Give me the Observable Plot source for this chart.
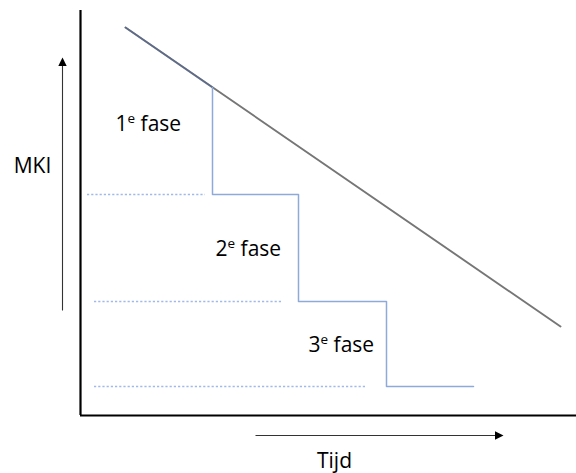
<!DOCTYPE html>
<html>
<head>
<meta charset="utf-8">
<script src="https://cdn.jsdelivr.net/npm/d3@7"></script>
<script src="https://cdn.jsdelivr.net/npm/@observablehq/plot@0.6"></script>
<style>
  html, body { margin: 0; padding: 0; background: #ffffff; }
</style>
</head>
<body>
<div id="chart"></div>
<script>
// Conceptual diagram: MKI (vertical) against Tijd (horizontal), in diagram units
const diagonalLine = [ {t: 45, mki: 388}, {t: 480, mki: 89} ];
const stepPoints = [ {t: 132, mki: 328}, {t: 218, mki: 221}, {t: 306, mki: 114}, {t: 393, mki: 29} ];
const levelMki = [221, 114, 29];
const levelStart = [7, 14, 14];
const levelEnd = [125, 202, 287];
const phaseNumbers = ["1", "2", "3"];
const phaseT = [35, 135, 228];
const phaseMki = [285, 160, 64];
const yAxisLabel = "MKI";
const xAxisLabel = "Tijd";
const yArrow = {t: -18, from: 105, to: 358};
const xArrow = {mki: -20, from: 175, to: 423};

const levels = levelMki.map((m, i) => ({mki: m, t1: levelStart[i], t2: levelEnd[i]}));
const phases = phaseNumbers.map((n, i) => ({label: n + "e fase", t: phaseT[i], mki: phaseMki[i]}));

const upTri = { draw(ctx) { ctx.moveTo(0, 0); ctx.lineTo(4.2, 8.5); ctx.lineTo(-4.2, 8.5); ctx.closePath(); } };
const rightTri = { draw(ctx) { ctx.moveTo(0, 0); ctx.lineTo(-8.5, -4.2); ctx.lineTo(-8.5, 4.2); ctx.closePath(); } };

const chart = Plot.plot({
  width: 576,
  height: 473,
  marginLeft: 80,
  marginRight: 0,
  marginTop: 10,
  marginBottom: 58,
  x: {domain: [0, 496], axis: null},
  y: {domain: [0, 405], axis: null},
  style: {fontFamily: "'Open Sans', sans-serif", background: "#ffffff", color: "#000"},
  marks: [
    // dotted level lines
    Plot.ruleY(levels, {y: "mki", x1: "t1", x2: "t2", stroke: "#a0bbe8", strokeWidth: 1.5, strokeDasharray: "2.2,2"}),
    // diagonal line
    Plot.line(diagonalLine, {x: "t", y: "mki", stroke: "#767676", strokeWidth: 1.9}),
    Plot.line([diagonalLine[0], stepPoints[0]], {x: "t", y: "mki", stroke: "#4a6296", strokeOpacity: 0.55, strokeWidth: 1.9}),
    // phase steps
    Plot.line(stepPoints, {x: "t", y: "mki", curve: "step-before", stroke: "#8eaadb", strokeWidth: 1.5}),
    // axes frame
    Plot.ruleX([0], {stroke: "#000", strokeWidth: 2.2}),
    Plot.ruleY([0], {stroke: "#000", strokeWidth: 2.2}),
    // direction arrows
    Plot.link([yArrow], {x1: "t", x2: "t", y1: "from", y2: d => d.to - 4, stroke: "#333", strokeWidth: 1.1}),
    Plot.dot([yArrow], {x: "t", y: "to", symbol: upTri, fill: "#000", stroke: "none", r: 4}),
    Plot.link([xArrow], {y1: "mki", y2: "mki", x1: "from", x2: d => d.to - 4, stroke: "#333", strokeWidth: 1.1}),
    Plot.dot([xArrow], {x: "to", y: "mki", symbol: rightTri, fill: "#000", stroke: "none", r: 4}),
    // labels
    Plot.text(phases, {x: "t", y: "mki", text: "label", textAnchor: "start", lineAnchor: "bottom", fontSize: 21, fill: "#000"}),
    Plot.text([yAxisLabel], {x: -48, y: 243, text: d => d, textAnchor: "middle", lineAnchor: "bottom", fontSize: 21, fill: "#000"}),
    Plot.text([xAxisLabel], {x: 254, y: -52, text: d => d, textAnchor: "middle", lineAnchor: "bottom", fontSize: 21, fill: "#000"})
  ]
});

// Render the ordinal "e" as a superscript
d3.select(chart).selectAll("text").each(function() {
  const t = this.textContent;
  const m = /^(\d)e (.*)$/.exec(t);
  if (!m) return;
  const sel = d3.select(this);
  sel.text(null);
  sel.append("tspan").text(m[1]);
  sel.append("tspan").attr("font-size", 13.5).attr("dy", -7.5).text("e");
  sel.append("tspan").attr("dy", 7.5).text(" " + m[2]);
});

document.getElementById("chart").appendChild(chart);
</script>
</body>
</html>
